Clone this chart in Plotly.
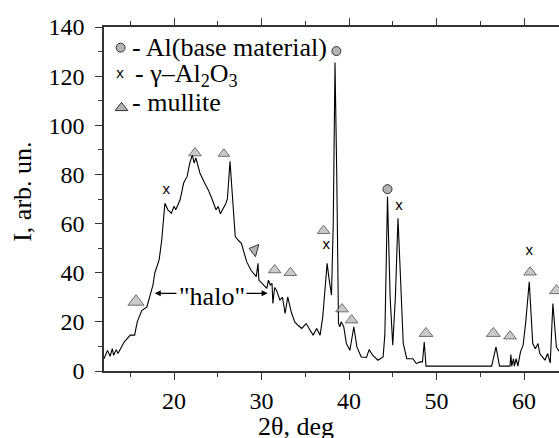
import plotly.graph_objects as go

# XRD pattern (2theta, intensity)
two_theta = [12.0, 12.4, 12.7, 12.95, 13.1, 13.4, 13.6, 14.3, 15.0, 15.5, 15.8, 16.3, 16.9, 17.2,
             17.6, 17.8, 18.3, 18.6, 18.96, 19.3, 19.7, 20.0, 20.2, 20.7, 21.1, 21.5, 21.8, 22.1,
             22.3, 22.5, 22.96, 23.5, 23.9, 24.3, 24.8, 25.05, 25.3, 25.6, 25.9, 26.1, 26.4, 26.7,
             27.0, 27.4, 27.7, 28.3, 28.8, 29.4, 29.6, 29.7, 30.2, 30.6, 30.8, 31.0, 31.2, 31.3,
             31.5, 31.7, 32.1, 32.4, 32.7, 33.0, 33.4, 33.8, 34.2, 34.6, 35.1, 35.5, 35.9, 36.3,
             36.7, 37.0, 37.5, 37.7, 38.0, 38.2, 38.4, 38.6, 38.8, 38.95, 39.1, 39.4, 39.7, 40.1,
             40.55, 40.9, 41.4, 42.0, 42.3, 42.7, 43.3, 43.9, 44.1, 44.4, 44.7, 45.0, 45.3, 45.6,
             45.9, 46.2, 46.6, 47.3, 47.7, 48.1, 48.4, 48.6, 48.8, 56.3, 56.8, 57.2, 58.4, 58.5,
             58.6, 58.8, 58.9, 59.1, 59.3, 59.6, 59.9, 60.2, 60.6, 61.0, 61.3, 61.6, 61.8, 62.4,
             62.7, 63.0, 63.3, 63.7, 64.0]
intensity = [5, 8.4, 6, 9.1, 6.4, 8.7, 7.1, 11.8, 14.6, 14.6, 20, 24.5, 26.1, 30.2,
             35, 39.8, 45.2, 53.3, 68.3, 65.6, 64.2, 67, 65.6, 69.7, 76.5, 79.2, 84.6, 88,
             84.6, 86.7, 80.6, 76.5, 73.8, 70.4, 65.6, 67, 64, 66, 68, 70, 85.3, 70,
             54.7, 53, 52, 44.5, 41, 38.4, 43.8, 37, 35, 33.6, 37, 35, 35.7, 27.5,
             34, 33, 28.9, 30, 23.4, 30.2, 24, 20, 18.5, 17.3, 19.3, 17, 14.6, 17.3,
             14.6, 22, 43.8, 38, 30.9, 60, 125.5, 80, 19.3, 18, 20, 18, 11.2, 8.4,
             18, 9.8, 5.7, 5.5, 8.7, 6.4, 4.4, 5.7, 15, 71, 30, 10.5, 30, 62.2,
             35, 11.2, 5, 5, 3, 3.7, 3.7, 11.8, 2, 2, 9.8, 2, 2, 6.7,
             2, 5, 2, 5, 2, 7.8, 10.5, 20, 36.3, 11.2, 9.1, 11.2, 7.1, 4.4,
             7.1, 3.3, 27.5, 9.8, 8]

# Phase markers
al_x = [38.56, 44.4]
al_y = [130.2, 74.0]
gamma_x = [19.1, 37.4, 45.7, 60.6]
gamma_y = [73.7, 51.3, 67.0, 48.9]
mullite_x = [15.65, 22.4, 25.7, 31.5, 33.3, 37.1, 39.2, 40.3, 48.8, 56.5, 58.4, 60.7, 63.7]
mullite_y = [28.2, 88.7, 88.4, 41.1, 40.0, 57.1, 25.2, 20.7, 15.3, 15.3, 14.2, 40.2, 32.7]
mullite_size = [14, 11, 10, 11, 11, 11, 11, 11, 12, 12, 11, 11, 12]
mullite_tilted_x = [29.2]
mullite_tilted_y = [49.3]

# Legend positions
legend_marker_x = [13.9, 13.83, 14.0]
legend_marker_y = [131.6, 120.7, 107.1]
legend_labels = ["- Al(base material)", "- γ–Al<sub>2</sub>O<sub>3</sub>", "- mullite"]
legend_label_x = [14.97, 15.3, 14.97]
legend_label_y = [131.8, 120.4, 109.3]

serif = "Liberation Serif"
sans = "Liberation Sans"
gray = "#b4b4b4"
edge = "#333333"

fig = go.Figure()
fig.add_trace(go.Scatter(x=two_theta, y=intensity, mode="lines",
                         line=dict(color="black", width=1.1), showlegend=False))
fig.add_trace(go.Scatter(x=al_x, y=al_y, mode="markers", showlegend=False,
                         marker=dict(symbol="circle", size=9, color=gray,
                                     line=dict(color=edge, width=1))))
fig.add_trace(go.Scatter(x=gamma_x, y=gamma_y, mode="text", text=["x"] * len(gamma_x),
                         textfont=dict(family=sans, size=15, color="black"),
                         showlegend=False))
fig.add_trace(go.Scatter(x=mullite_x, y=mullite_y, mode="markers", showlegend=False,
                         marker=dict(symbol="triangle-up", size=mullite_size, color=gray,
                                     line=dict(color=edge, width=1))))
fig.add_trace(go.Scatter(x=mullite_tilted_x, y=mullite_tilted_y, mode="markers", showlegend=False,
                         marker=dict(symbol="triangle-up", size=11, color=gray, angle=-75,
                                     line=dict(color=edge, width=1))))
# legend symbols
fig.add_trace(go.Scatter(x=legend_marker_x[:1], y=legend_marker_y[:1], mode="markers", showlegend=False,
                         marker=dict(symbol="circle", size=9, color=gray, line=dict(color=edge, width=1))))
fig.add_trace(go.Scatter(x=legend_marker_x[1:2], y=legend_marker_y[1:2], mode="text", text=["x"],
                         textfont=dict(family=sans, size=15, color="black"), showlegend=False))
fig.add_trace(go.Scatter(x=legend_marker_x[2:], y=legend_marker_y[2:], mode="markers", showlegend=False,
                         marker=dict(symbol="triangle-up", size=11, color=gray, line=dict(color=edge, width=1))))

for lx, ly, lt in zip(legend_label_x, legend_label_y, legend_labels):
    fig.add_annotation(x=lx, y=ly, text=lt, showarrow=False, xanchor="left", yanchor="middle",
                       font=dict(family=serif, size=26, color="black"))

# halo annotation
fig.add_annotation(x=24.33, y=30.5, text='"halo"', showarrow=False, xanchor="center", yanchor="middle",
                   font=dict(family=serif, size=26, color="black"))
fig.add_annotation(x=17.8, y=31.6, ax=20.45, ay=31.6, axref="x", ayref="y", text="",
                   showarrow=True, arrowhead=2, arrowsize=1, arrowwidth=1.2, arrowcolor="black")
fig.add_annotation(x=30.7, y=31.6, ax=28.1, ay=31.6, axref="x", ayref="y", text="",
                   showarrow=True, arrowhead=2, arrowsize=1, arrowwidth=1.2, arrowcolor="black")

# axis titles
fig.add_annotation(xref="paper", yref="paper", x=0.422, y=-0.16, text="2θ, deg", showarrow=False,
                   xanchor="center", yanchor="middle",
                   font=dict(family=serif, size=26, color="black"))
fig.add_annotation(xref="paper", yref="paper", x=-0.178, y=0.521, text="I, arb. un.", showarrow=False,
                   xanchor="center", yanchor="middle",
                   textangle=-90, font=dict(family=serif, size=26, color="black"))

axis_common = dict(showgrid=False, zeroline=False, showline=True, linecolor=edge, linewidth=1.5,
                   ticks="outside", tickcolor=edge, tickwidth=1.2, ticklen=7,
                   tickfont=dict(family=serif, size=24, color="black"))
fig.update_xaxes(range=[12, 64], dtick=10, tick0=0, mirror="ticks",
                 minor=dict(dtick=5, tick0=0, ticks="outside", ticklen=4, tickcolor=edge, tickwidth=1.2),
                 **axis_common)
fig.update_yaxes(range=[0, 140], dtick=20, tick0=0, mirror=False,
                 minor=dict(dtick=10, tick0=0, ticks="outside", ticklen=4, tickcolor=edge, tickwidth=1.2),
                 ticklabelstandoff=6, **axis_common)

fig.update_layout(width=559, height=438, margin=dict(l=104, r=0, t=27, b=67),
                  plot_bgcolor="white", paper_bgcolor="white", showlegend=False,
                  font=dict(family=serif))

fig.write_html("out.html")
